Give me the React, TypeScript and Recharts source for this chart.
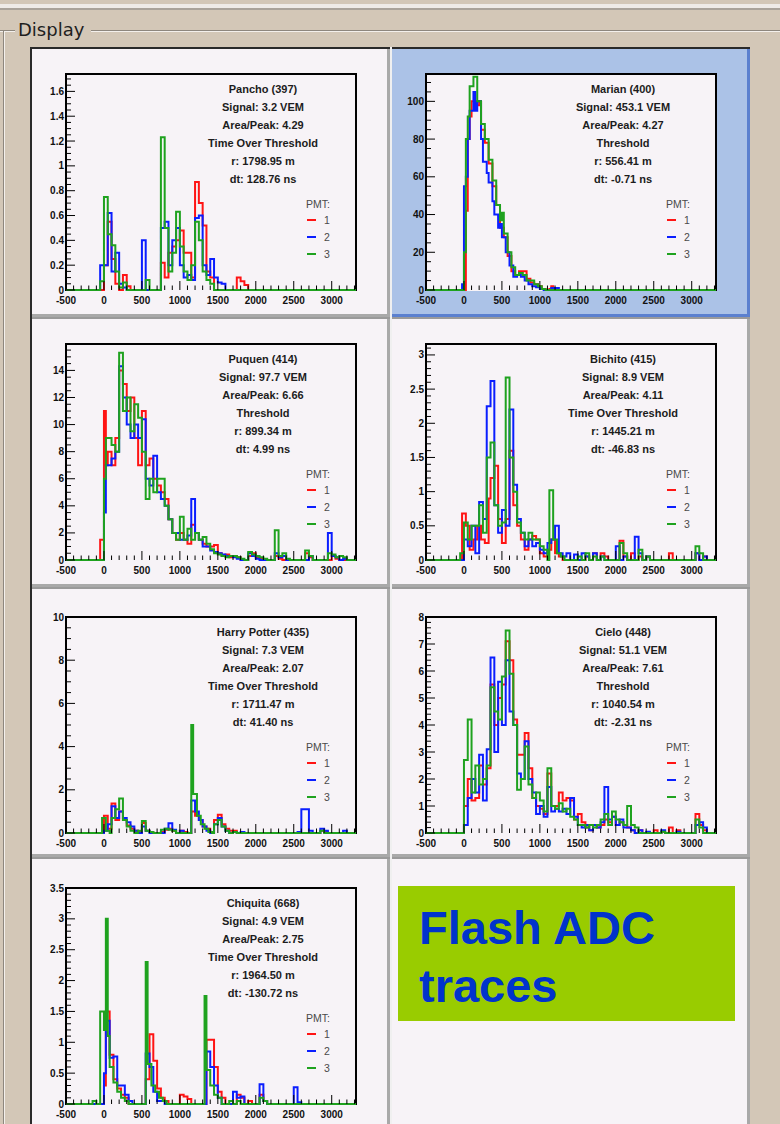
import { LineChart, Line, XAxis, YAxis } from "recharts";

type Bin = [number, number];

// time axis (ns), shared by every station
const X_MIN = -500;
const X_MAX = 3320;
const BIN = 50;
const X_TICKS = [-500, 0, 500, 1000, 1500, 2000, 2500, 3000];

const PMT_COLORS = ["#ff1414", "#0a1eff", "#1fa21f"];
const PMT_LABELS = ["1", "2", "3"];

// ---- Pancho (397)
const PANCHO_INFO = ["Pancho (397)", "Signal: 3.2 VEM", "Area/Peak: 4.29", "Time Over Threshold", "r: 1798.95 m", "dt: 128.76 ns"];
const PANCHO_Y_TICKS = [0, 0.2, 0.4, 0.6, 0.8, 1, 1.2, 1.4, 1.6];
const PANCHO_PMT1: Bin[] = [[0, 0.2], [50, 0.55], [100, 0.25], [150, 0.05], [250, 0.12], [300, 0.03], [750, 0.22], [800, 0.1], [850, 0.3], [900, 0.35], [950, 0.4], [1000, 0.48], [1050, 0.3], [1100, 0.3], [1150, 0.1], [1200, 0.87], [1250, 0.7], [1300, 0.52], [1350, 0.15], [1400, 0.1], [1750, 0.1], [1800, 0.07], [1850, 0.04]];
const PANCHO_PMT2: Bin[] = [[-50, 0.2], [0, 0.2], [50, 0.62], [100, 0.15], [150, 0.3], [200, 0.05], [250, 0.02], [500, 0.4], [750, 0.5], [800, 0.55], [850, 0.2], [900, 0.4], [950, 0.5], [1000, 0.2], [1050, 0.1], [1100, 0.12], [1150, 0.08], [1200, 0.58], [1250, 0.6], [1300, 0.2], [1350, 0.12], [1400, 0.25], [1450, 0.1], [1500, 0.06], [1550, 0.05]];
const PANCHO_PMT3: Bin[] = [[-50, 0.07], [0, 0.75], [50, 0.45], [100, 0.36], [150, 0.15], [200, 0.02], [250, 0.06], [550, 0.08], [750, 1.23], [800, 0.5], [850, 0.15], [900, 0.3], [950, 0.63], [1000, 0.35], [1050, 0.15], [1100, 0.08], [1150, 0.2], [1200, 0.55], [1250, 0.4], [1300, 0.15], [1350, 0.08], [1400, 0.05]];

// ---- Marian (400)
const MARIAN_INFO = ["Marian (400)", "Signal: 453.1 VEM", "Area/Peak: 4.27", "Threshold", "r: 556.41 m", "dt: -0.71 ns"];
const MARIAN_Y_TICKS = [0, 20, 40, 60, 80, 100];
const MARIAN_PMT1: Bin[] = [[25, 42], [50, 80], [75, 92], [100, 100], [150, 98], [200, 100], [225, 85], [275, 78], [325, 67], [375, 55], [425, 45], [475, 33], [525, 28], [575, 18], [625, 10], [675, 8], [725, 10], [775, 10], [825, 6], [875, 4], [925, 3], [975, 2], [1025, 0.5], [1125, 0.5], [1150, 2], [1175, 0.5]];
const MARIAN_PMT2: Bin[] = [[-25, 3], [0, 55], [25, 60], [50, 80], [75, 95], [125, 105], [150, 95], [175, 100], [225, 80], [250, 68], [300, 62], [325, 57], [375, 47], [400, 40], [450, 33], [475, 35], [500, 28], [550, 20], [600, 13], [650, 7], [700, 8], [750, 7], [800, 5], [850, 3], [900, 2], [950, 1.5], [1000, 0.5], [1150, 1], [1200, 1]];
const MARIAN_PMT3: Bin[] = [[0, 20], [25, 80], [50, 92], [75, 108], [125, 113], [175, 100], [225, 88], [275, 80], [325, 69], [375, 58], [425, 45], [475, 37], [500, 41], [525, 30], [575, 20], [625, 12], [675, 8], [725, 9], [775, 8], [825, 5], [875, 5], [925, 3], [975, 2], [1025, 0.5]];

// ---- Puquen (414)
const PUQUEN_INFO = ["Puquen (414)", "Signal: 97.7 VEM", "Area/Peak: 6.66", "Threshold", "r: 899.34 m", "dt: 4.99 ns"];
const PUQUEN_Y_TICKS = [0, 2, 4, 6, 8, 10, 12, 14];
const PUQUEN_PMT1: Bin[] = [[-50, 1.5], [0, 11], [25, 7], [50, 8], [100, 7], [150, 9], [200, 14], [250, 13], [300, 11], [350, 12], [400, 9], [450, 7], [500, 11], [550, 7], [600, 7.5], [650, 6], [700, 5.5], [750, 5], [800, 4.5], [850, 3], [900, 2], [950, 1.5], [1000, 2], [1050, 1.5], [1100, 1.2], [1150, 2.6], [1200, 2], [1250, 1.5], [1300, 1.2], [1350, 1], [1400, 1], [1450, 1.1], [1500, 0.5], [1550, 0.3], [1600, 0.4], [1650, 0.2], [1700, 0.3], [1750, 0.2], [1900, 0.3], [1950, 0.5], [2000, 0.2], [2050, 0.1], [2250, 0.3], [2300, 0.1], [2650, 0.5], [2700, 0.2], [3000, 0.3], [3050, 0.1]];
const PUQUEN_PMT2: Bin[] = [[0, 3.5], [25, 7], [50, 7], [100, 7.5], [150, 8], [200, 14.3], [250, 12], [300, 10], [350, 9], [400, 10], [450, 9], [500, 10.4], [550, 6], [600, 5.5], [650, 7.7], [700, 5], [750, 4.5], [800, 4], [850, 3], [900, 2], [950, 2], [1000, 1.5], [1050, 1.5], [1100, 1.8], [1150, 4.5], [1200, 2], [1250, 1.5], [1300, 1], [1350, 1], [1400, 0.7], [1450, 0.6], [1500, 0.5], [1550, 0.4], [1600, 0.3], [1650, 0.3], [1700, 0.2], [1750, 0.1], [1900, 0.5], [1950, 0.3], [2000, 0.1], [2250, 0.5], [2300, 0.2], [2350, 0.3], [2700, 0.3], [2950, 2], [3000, 0.3], [3050, 0.2], [3150, 0.1]];
const PUQUEN_PMT3: Bin[] = [[0, 6], [25, 9], [50, 9], [100, 8.5], [150, 8], [200, 15.3], [250, 11], [300, 12], [350, 9.5], [400, 11.5], [450, 10.5], [500, 8], [550, 4.5], [600, 6], [650, 5], [700, 6], [750, 6], [800, 4], [850, 3], [900, 2], [950, 1.5], [1000, 3.2], [1050, 1.5], [1100, 2.3], [1150, 1.5], [1200, 2], [1250, 1.5], [1300, 1.7], [1350, 1.2], [1400, 0.8], [1450, 0.5], [1500, 0.4], [1550, 0.3], [1600, 0.2], [1650, 0.3], [1700, 0.3], [1750, 0.2], [1800, 0.1], [1900, 0.6], [1950, 0.4], [2000, 0.3], [2050, 0.2], [2100, 0.1], [2250, 2.2], [2300, 0.3], [2350, 0.5], [2400, 0.1], [2650, 0.7], [2700, 0.3], [2950, 0.5], [3000, 0.4], [3050, 0.2], [3100, 0.3], [3150, 0.2]];

// ---- Bichito (415)
const BICHITO_INFO = ["Bichito (415)", "Signal: 8.9 VEM", "Area/Peak: 4.11", "Time Over Threshold", "r: 1445.21 m", "dt: -46.83 ns"];
const BICHITO_Y_TICKS = [0, 0.5, 1, 1.5, 2, 2.5, 3];
const BICHITO_PMT1: Bin[] = [[-25, 0.68], [25, 0.5], [75, 0.15], [125, 0.3], [175, 0.5], [225, 0.3], [275, 0.25], [325, 0.9], [350, 1.2], [400, 1.38], [450, 0.6], [500, 0.25], [550, 0.6], [600, 1.6], [650, 0.8], [700, 0.5], [750, 0.3], [800, 0.15], [850, 0.3], [900, 0.35], [950, 0.3], [1000, 0.1], [1050, 0.05], [1100, 0.15], [1150, 0.3], [1200, 0.1], [1250, 0.05], [1600, 0.05], [1700, 0.1], [1800, 0.1], [1850, 0.05], [2050, 0.28], [2100, 0.05], [2200, 0.1], [2300, 0.05], [2400, 0.05], [2700, 0.1], [3050, 0.1], [3150, 0.05]];
const BICHITO_PMT2: Bin[] = [[0, 0.3], [50, 0.2], [100, 0.5], [150, 0.1], [200, 0.85], [250, 0.6], [300, 2.25], [350, 2.62], [400, 0.8], [450, 0.4], [500, 0.73], [550, 0.5], [600, 2.2], [650, 1.1], [700, 0.6], [750, 0.4], [800, 0.2], [850, 0.3], [900, 0.2], [950, 0.25], [1000, 0.15], [1050, 0.1], [1100, 0.25], [1150, 0.3], [1200, 0.5], [1250, 0.1], [1300, 0.05], [1350, 0.1], [1450, 0.08], [1550, 0.1], [1600, 0.05], [1700, 0.1], [1800, 0.05], [2000, 0.2], [2100, 0.05], [2250, 0.34], [2300, 0.1], [2400, 0.05], [3050, 0.1], [3150, 0.05]];
const BICHITO_PMT3: Bin[] = [[-50, 0.1], [0, 0.55], [50, 0.3], [100, 0.5], [150, 0.5], [200, 0.8], [250, 0.4], [300, 1.5], [350, 1.72], [400, 0.8], [450, 0.5], [500, 0.55], [550, 2.67], [600, 1.5], [650, 1.0], [700, 0.55], [750, 0.4], [800, 0.3], [850, 0.4], [900, 0.3], [950, 0.3], [1000, 0.2], [1050, 0.15], [1125, 1.02], [1175, 0.3], [1225, 0.1], [1275, 0.05], [1500, 0.05], [1600, 0.1], [1700, 0.05], [1800, 0.05], [2050, 0.25], [2100, 0.1], [2300, 0.15], [2400, 0.05], [3050, 0.2], [3100, 0.1]];

// ---- Harry Potter (435)
const HARRY_INFO = ["Harry Potter (435)", "Signal: 7.3 VEM", "Area/Peak: 2.07", "Time Over Threshold", "r: 1711.47 m", "dt: 41.40 ns"];
const HARRY_Y_TICKS = [0, 2, 4, 6, 8, 10];
const HARRY_PMT1: Bin[] = [[0, 0.8], [50, 0.2], [100, 1.36], [150, 0.6], [200, 1.0], [250, 0.6], [300, 0.35], [350, 0.2], [400, 0.1], [450, 0.05], [500, 0.46], [550, 0.1], [600, 0.05], [750, 0.05], [800, 0.15], [850, 0.2], [900, 0.1], [1000, 0.1], [1050, 0.05], [1150, 1.0], [1200, 0.8], [1250, 0.6], [1300, 0.3], [1350, 0.2], [1400, 0.05], [1450, 0.6], [1500, 0.85], [1550, 0.4], [1600, 0.2], [1650, 0.1], [1700, 0.1], [2850, 0.1], [2900, 0.05]];
const HARRY_PMT2: Bin[] = [[0, 0.1], [50, 0.4], [100, 1.24], [150, 0.7], [200, 1.0], [250, 0.7], [300, 0.5], [350, 0.3], [400, 0.1], [500, 0.3], [550, 0.1], [800, 0.2], [850, 0.45], [900, 0.15], [1000, 0.1], [1150, 1.5], [1200, 1.0], [1250, 0.6], [1300, 0.3], [1350, 0.1], [1450, 0.4], [1500, 0.7], [1550, 0.3], [1600, 0.1], [1700, 0.05], [1800, 0.05], [2550, 0.05], [2600, 1.1], [2650, 1.1], [2700, 0.1], [2850, 0.2], [2900, 0.1], [3150, 0.1]];
const HARRY_PMT3: Bin[] = [[-25, 0.7], [25, 0.1], [100, 0.7], [150, 1.1], [200, 1.6], [250, 0.6], [300, 0.3], [350, 0.1], [450, 0.1], [500, 0.55], [550, 0.1], [600, 0.05], [750, 0.15], [800, 0.2], [850, 0.15], [900, 0.1], [1150, 5.0], [1175, 1.8], [1225, 0.8], [1275, 0.4], [1325, 0.2], [1375, 0.05], [1450, 0.4], [1500, 0.6], [1550, 0.3], [1600, 0.1], [1700, 0.05], [2850, 0.1]];

// ---- Cielo (448)
const CIELO_INFO = ["Cielo (448)", "Signal: 51.1 VEM", "Area/Peak: 7.61", "Threshold", "r: 1040.54 m", "dt: -2.31 ns"];
const CIELO_Y_TICKS = [0, 1, 2, 3, 4, 5, 6, 7, 8];
const CIELO_PMT1: Bin[] = [[0, 1.0], [50, 2.0], [100, 1.2], [150, 1.3], [200, 2.5], [250, 1.8], [300, 2.4], [350, 5.5], [400, 4.0], [450, 5.0], [500, 5.5], [550, 7.1], [600, 6.4], [650, 4.2], [700, 2.9], [750, 2.9], [800, 3.7], [850, 2.4], [900, 1.3], [950, 1.0], [1000, 0.9], [1050, 0.7], [1100, 2.2], [1150, 1.0], [1200, 1.0], [1250, 1.5], [1300, 1.2], [1350, 1.3], [1400, 1.2], [1450, 0.5], [1500, 0.7], [1550, 0.4], [1600, 0.2], [1650, 0.1], [1700, 0.3], [1750, 0.2], [1800, 0.3], [1850, 0.5], [1900, 0.4], [1950, 0.6], [2000, 0.3], [2050, 0.4], [2100, 0.3], [2150, 0.2], [2200, 0.1], [2300, 0.1], [2500, 0.1], [2600, 0.05], [2700, 0.2], [2800, 0.1], [3050, 0.7], [3100, 0.3], [3150, 0.1]];
const CIELO_PMT2: Bin[] = [[0, 0.3], [50, 1.3], [100, 2.0], [150, 1.5], [200, 2.9], [250, 1.2], [300, 3.1], [350, 6.5], [400, 3.0], [450, 5.6], [500, 4.0], [550, 6.4], [600, 4.5], [650, 4.0], [700, 2.2], [750, 2.0], [800, 3.4], [850, 2.0], [900, 1.5], [950, 0.7], [1000, 1.0], [1050, 0.6], [1100, 1.7], [1150, 0.8], [1200, 0.9], [1250, 0.8], [1300, 0.9], [1350, 0.7], [1400, 1.3], [1450, 0.6], [1500, 0.3], [1550, 0.2], [1600, 0.3], [1650, 0.1], [1700, 0.3], [1750, 0.2], [1800, 0.4], [1850, 1.7], [1900, 0.5], [1950, 0.6], [2000, 0.3], [2050, 0.5], [2100, 0.2], [2150, 0.2], [2200, 0.1], [2300, 0.1], [2400, 0.05], [2600, 0.1], [2800, 0.05], [3050, 0.3], [3100, 0.4], [3150, 0.2]];
const CIELO_PMT3: Bin[] = [[0, 2.7], [50, 4.2], [100, 1.5], [150, 2.5], [200, 1.8], [250, 2.0], [300, 2.5], [350, 5.4], [400, 4.5], [450, 4.2], [500, 5.8], [550, 7.5], [600, 5.9], [650, 4.0], [700, 1.6], [750, 2.0], [800, 3.2], [850, 1.8], [900, 1.3], [950, 1.5], [1000, 1.2], [1050, 0.8], [1100, 2.4], [1150, 1.0], [1200, 0.9], [1250, 1.1], [1300, 0.8], [1350, 0.9], [1400, 0.6], [1450, 0.5], [1500, 0.3], [1550, 0.3], [1600, 0.2], [1650, 0.3], [1700, 0.2], [1750, 0.3], [1800, 0.5], [1850, 0.7], [1900, 0.3], [1950, 0.8], [2000, 0.5], [2050, 0.4], [2100, 0.3], [2150, 1.0], [2200, 0.3], [2250, 0.2], [2600, 0.05], [3050, 0.5], [3100, 0.2]];

// ---- Chiquita (668)
const CHIQUITA_INFO = ["Chiquita (668)", "Signal: 4.9 VEM", "Area/Peak: 2.75", "Time Over Threshold", "r: 1964.50 m", "dt: -130.72 ns"];
const CHIQUITA_Y_TICKS = [0, 0.5, 1, 1.5, 2, 2.5, 3, 3.5];
const CHIQUITA_PMT1: Bin[] = [[0, 0.3], [25, 1.5], [75, 0.8], [125, 0.4], [175, 0.25], [225, 0.15], [275, 0.1], [550, 0.4], [600, 1.13], [650, 0.7], [700, 0.25], [750, 0.1], [800, 0.05], [1000, 0.15], [1050, 0.12], [1100, 0.08], [1350, 1.04], [1400, 1.04], [1450, 0.6], [1500, 0.2], [1550, 0.1], [1750, 0.15], [1800, 0.1], [1900, 0.05], [2050, 0.15], [2100, 0.05]];
const CHIQUITA_PMT2: Bin[] = [[0, 0.5], [25, 1.35], [75, 0.75], [125, 0.77], [175, 0.3], [225, 0.3], [275, 0.15], [325, 0.05], [550, 0.82], [600, 0.6], [650, 0.2], [700, 0.05], [750, 0.05], [1350, 0.85], [1400, 0.6], [1450, 0.3], [1500, 0.1], [1700, 0.2], [1750, 0.1], [1800, 0.12], [2050, 0.32], [2100, 0.05], [2500, 0.27], [2550, 0.03]];
const CHIQUITA_PMT3: Bin[] = [[-150, 0.05], [-50, 1.5], [0, 1.2], [25, 3.0], [50, 1.1], [75, 0.6], [125, 0.35], [175, 0.2], [225, 0.1], [275, 0.05], [550, 2.3], [575, 0.65], [625, 0.3], [675, 0.2], [725, 0.1], [775, 0.05], [1325, 1.75], [1350, 0.55], [1400, 0.3], [1450, 0.15], [1500, 0.1], [1650, 0.05], [1750, 0.05], [2050, 0.1], [2100, 0.05]];

// ---- page layout
const PAGE_W = 780;
const PAGE_H = 1124;
const COL_X = [30, 390];
const ROW_Y = [47, 317, 587, 857];
const PLOT_TOP = [74, 344, 617, 888];
const PANEL_W = 360;
const PANEL_H = 270;
const PLOT_LEFT = 36;
const PLOT_W = 290;
const PLOT_H = 216;
const INFO_DY = [15, 33, 51, 69, 87, 105];
const LEGEND_DY = [146, 163, 180];

const SANS = '"Liberation Sans", Arial, Helvetica, sans-serif';

type PanelDef = {
  info: string[];
  yTicks: number[];
  yMax: number;
  yMinor: number;
  traces: Bin[][];
  col: number;
  row: number;
  selected?: boolean;
};

const PANELS: PanelDef[] = [
  { info: PANCHO_INFO, yTicks: PANCHO_Y_TICKS, yMax: 1.74, yMinor: 0.05, traces: [PANCHO_PMT1, PANCHO_PMT2, PANCHO_PMT3], col: 0, row: 0 },
  { info: MARIAN_INFO, yTicks: MARIAN_Y_TICKS, yMax: 114.5, yMinor: 5, traces: [MARIAN_PMT1, MARIAN_PMT2, MARIAN_PMT3], col: 1, row: 0, selected: true },
  { info: PUQUEN_INFO, yTicks: PUQUEN_Y_TICKS, yMax: 15.95, yMinor: 0.5, traces: [PUQUEN_PMT1, PUQUEN_PMT2, PUQUEN_PMT3], col: 0, row: 1 },
  { info: BICHITO_INFO, yTicks: BICHITO_Y_TICKS, yMax: 3.16, yMinor: 0.1, traces: [BICHITO_PMT1, BICHITO_PMT2, BICHITO_PMT3], col: 1, row: 1 },
  { info: HARRY_INFO, yTicks: HARRY_Y_TICKS, yMax: 10, yMinor: 0.5, traces: [HARRY_PMT1, HARRY_PMT2, HARRY_PMT3], col: 0, row: 2 },
  { info: CIELO_INFO, yTicks: CIELO_Y_TICKS, yMax: 8, yMinor: 0.2, traces: [CIELO_PMT1, CIELO_PMT2, CIELO_PMT3], col: 1, row: 2 },
  { info: CHIQUITA_INFO, yTicks: CHIQUITA_Y_TICKS, yMax: 3.5, yMinor: 0.1, traces: [CHIQUITA_PMT1, CHIQUITA_PMT2, CHIQUITA_PMT3], col: 0, row: 3 },
];

// histogram bins -> step points; gaps between listed bins fall back to zero
function toSteps(bins: Bin[]) {
  const pts = [{ t: X_MIN, v: 0 }];
  let end = X_MIN;
  for (const [t, v] of bins) {
    if (t > end) pts.push({ t: end, v: 0 });
    pts.push({ t, v });
    end = t + BIN;
  }
  pts.push({ t: end, v: 0 }, { t: X_MAX, v: 0 });
  return pts;
}

const round6 = (n: number) => Math.round(n * 1e6) / 1e6;

function minorTicks(max: number, step: number) {
  const out: number[] = [];
  for (let i = 0; i * step <= max + 1e-9; i++) out.push(round6(i * step));
  return out;
}

const X_ALL_TICKS = minorTicks(X_MAX - X_MIN, 100).map((d) => d + X_MIN);

function TracePanel({ p }: { p: PanelDef }) {
  const left = COL_X[p.col];
  const top = ROW_Y[p.row];
  const offTop = PLOT_TOP[p.row] - top;
  // axes get 1px of room (a zero-sized axis is not rendered at all)
  const margin = {
    top: offTop,
    left: PLOT_LEFT - 1,
    right: PANEL_W - PLOT_LEFT - PLOT_W,
    bottom: PANEL_H - offTop - PLOT_H - 1,
  };
  const bottomY = offTop + PLOT_H;
  const yAll = minorTicks(p.yMax, p.yMinor);

  const yTick = (props: any) => {
    const v = props.payload.value;
    const y = props.y;
    const major = p.yTicks.some((m) => Math.abs(m - v) < 1e-6);
    return (
      <g>
        <line x1={PLOT_LEFT} x2={PLOT_LEFT + (major ? 9 : 5)} y1={y} y2={y} stroke="#000" />
        {major && (
          <text x={PLOT_LEFT - 2} y={y + 3.5} textAnchor="end" fontSize={10} fontWeight="bold" fontFamily={SANS} fill="#111">
            {String(v)}
          </text>
        )}
      </g>
    );
  };

  const xTick = (props: any) => {
    const v = props.payload.value;
    const x = props.x;
    const major = X_TICKS.includes(v);
    return (
      <g>
        <line x1={x} x2={x} y1={bottomY} y2={bottomY - (major ? 9 : 4.5)} stroke="#000" />
        {major && (
          <text x={x} y={bottomY + 14} textAnchor="middle" fontSize={10} fontWeight="bold" fontFamily={SANS} fill="#111">
            {String(v)}
          </text>
        )}
      </g>
    );
  };

  const bg = p.selected ? "#abc2e7" : "#f7f3f7";
  const edge = p.selected ? "#5b80cf" : "#a9a9a9";
  const topEdge = p.row === 0 ? "#2a2a2a" : "#9a9a9a";
  const leftEdge = p.col === 0 ? "#2a2a2a" : "#f0f0f0";

  return (
    <div
      style={{
        position: "absolute",
        left,
        top,
        width: PANEL_W,
        height: PANEL_H,
        background: bg,
        boxShadow: `inset 2px 0 0 ${leftEdge}, inset 0 2px 0 ${topEdge}, inset -3px -3px 0 ${edge}`,
      }}
    >
      {/* plot frame; the bottom edge is the traces' own zero line */}
      <div
        style={{
          position: "absolute",
          left: PLOT_LEFT - 1,
          top: offTop - 1,
          width: PLOT_W + 2,
          height: PLOT_H + 2,
          boxSizing: "border-box",
          borderTop: "2px solid #000",
          borderLeft: "2px solid #000",
          borderRight: "2px solid #000",
          background: "#f7f3f7",
        }}
      />
      <div style={{ position: "absolute", left: 0, top: 0 }}>
        <LineChart width={PANEL_W} height={PANEL_H} margin={margin}>
          <XAxis
            dataKey="t"
            type="number"
            domain={[X_MIN, X_MAX]}
            ticks={X_ALL_TICKS}
            interval={0}
            tick={xTick}
            tickLine={false}
            axisLine={false}
            height={1}
          />
          <YAxis
            type="number"
            domain={[0, p.yMax]}
            ticks={yAll}
            interval={0}
            tick={yTick}
            tickLine={false}
            axisLine={false}
            width={1}
          />
          {p.traces.map((bins, i) => (
            <Line
              key={i}
              data={toSteps(bins)}
              dataKey="v"
              type="stepAfter"
              stroke={PMT_COLORS[i]}
              strokeWidth={2}
              dot={false}
              activeDot={false}
              isAnimationActive={false}
            />
          ))}
        </LineChart>
      </div>
      {p.info.map((line, i) => (
        <div
          key={line}
          style={{
            position: "absolute",
            left: 233 - 110,
            width: 220,
            top: offTop + INFO_DY[i] - 7,
            height: 14,
            lineHeight: "14px",
            textAlign: "center",
            fontFamily: SANS,
            fontWeight: "bold",
            fontSize: 11,
            color: "#1c1c1c",
            whiteSpace: "nowrap",
          }}
        >
          {line}
        </div>
      ))}
      <div
        style={{
          position: "absolute",
          left: PLOT_LEFT + 240,
          top: offTop + 130 - 7,
          lineHeight: "14px",
          fontFamily: SANS,
          fontSize: 10.5,
          color: "#4a4a4a",
        }}
      >
        PMT:
      </div>
      {PMT_LABELS.map((lab, i) => (
        <div key={lab}>
          <div
            style={{
              position: "absolute",
              left: PLOT_LEFT + 241,
              top: offTop + LEGEND_DY[i] - 1,
              width: 9,
              height: 2,
              background: PMT_COLORS[i],
            }}
          />
          <div
            style={{
              position: "absolute",
              left: PLOT_LEFT + 258,
              top: offTop + LEGEND_DY[i] - 7,
              lineHeight: "14px",
              fontFamily: SANS,
              fontSize: 10.5,
              color: "#4a4a4a",
            }}
          >
            {lab}
          </div>
        </div>
      ))}
    </div>
  );
}

export default function App() {
  return (
    <div
      style={{
        position: "absolute",
        left: 0,
        top: 0,
        width: PAGE_W,
        height: PAGE_H,
        overflow: "hidden",
        background: "#d3c7b7",
      }}
    >
      <svg width={PAGE_W} height={PAGE_H} style={{ position: "absolute", left: 0, top: 0 }}>
        <rect x={0} y={4} width={PAGE_W} height={4} fill="#efebe7" />
        <rect x={0} y={8} width={PAGE_W} height={2} fill="#aaa39a" />
        <rect x={0} y={30} width={15} height={1} fill="#8e877e" />
        <rect x={0} y={31} width={15} height={1} fill="#f4f0ec" />
        <rect x={91} y={30} width={PAGE_W - 91} height={1} fill="#8e877e" />
        <rect x={91} y={31} width={PAGE_W - 91} height={1} fill="#f4f0ec" />
        <rect x={3} y={30} width={1} height={PAGE_H - 30} fill="#8e877e" />
        <rect x={4} y={31} width={1} height={PAGE_H - 31} fill="#f4f0ec" />
        <text x={18} y={36} fontFamily='"DejaVu Sans", Verdana, sans-serif' fontSize={18} fill="#1e1e1e">
          Display
        </text>
      </svg>

      {PANELS.map((p) => (
        <TracePanel key={p.info[0]} p={p} />
      ))}

      <div
        style={{
          position: "absolute",
          left: COL_X[1],
          top: ROW_Y[3],
          width: PANEL_W,
          height: PANEL_H,
          background: "#f7f3f7",
          boxShadow: "inset 2px 0 0 #f0f0f0, inset 0 2px 0 #9a9a9a, inset -3px -3px 0 #a9a9a9",
        }}
      />
      <svg width={337} height={135} style={{ position: "absolute", left: 398, top: 886 }}>
        <rect x={0} y={0} width={337} height={135} fill="#99cc00" />
        <text x={21} y={58} fontFamily={SANS} fontWeight="bold" fontSize={47} fill="#0033cc">
          Flash ADC
        </text>
        <text x={21} y={116} fontFamily={SANS} fontWeight="bold" fontSize={47} fill="#0033cc">
          traces
        </text>
      </svg>
    </div>
  );
}
